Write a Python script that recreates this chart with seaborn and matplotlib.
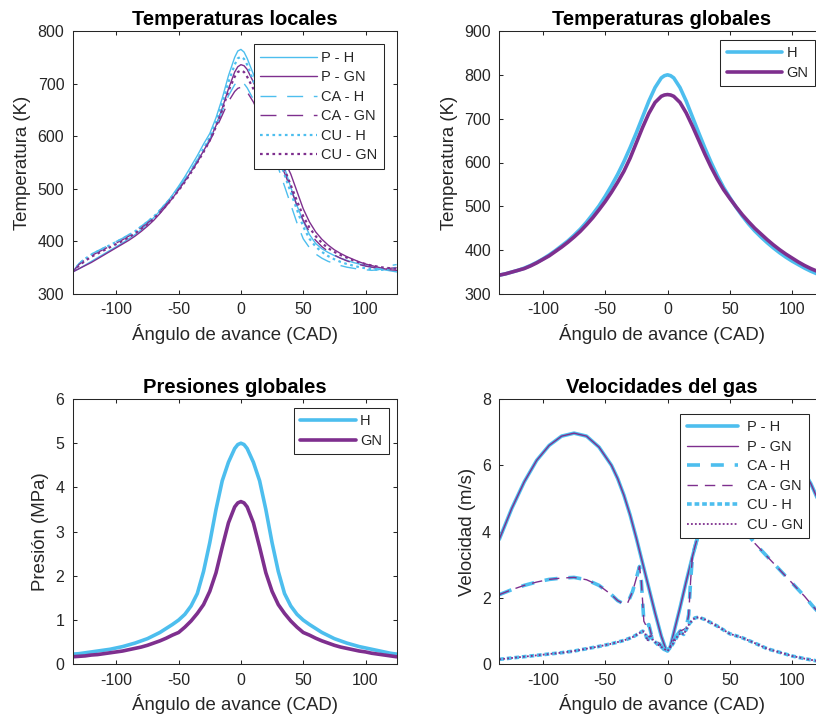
import numpy as np
import pandas as pd
import matplotlib
matplotlib.use("Agg")
import matplotlib.pyplot as plt
import seaborn as sns

# ---------------------------------------------------------------------------
# Data (crank angle in CAD)
# ---------------------------------------------------------------------------
angle = [-135, -130, -125, -120, -115, -110, -105, -100, -95, -90, -85, -80,
         -75, -70, -65, -60, -55, -50, -45, -40, -35, -30, -25, -20, -15, -10,
         -5, -2.5, 0, 2.5, 5, 10, 15, 20, 25, 30, 35, 40, 45, 50, 55, 60, 65,
         70, 75, 80, 85, 90, 95, 100, 105, 110, 115, 120, 125]

# Local temperatures (K): P = pistón, CA = cámara, CU = culata
t_loc_p_h = [342, 348, 355, 362, 369, 376, 383, 390, 397, 405, 413, 422, 433,
             445, 458, 472, 488, 505, 523, 543, 563, 585, 605, 635, 672, 715,
             750, 762, 765, 760, 748, 718, 685, 650, 615, 578, 540, 503, 468,
             438, 413, 396, 386, 379, 373, 368, 364, 360, 357, 354, 351, 348,
             346, 344, 342]
t_loc_p_gn = [342, 348, 354, 360, 367, 374, 381, 388, 395, 402, 410, 419, 429,
              440, 453, 467, 482, 498, 515, 533, 552, 572, 593, 620, 653, 690,
              722, 732, 736, 734, 727, 703, 675, 645, 613, 582, 553, 528, 495,
              462, 437, 418, 404, 393, 384, 377, 371, 366, 361, 357, 354, 351,
              348, 346, 345]
t_loc_ca_h = [342, 358, 368, 376, 382, 388, 394, 400, 406, 413, 420, 429, 438,
              448, 460, 473, 487, 502, 518, 536, 555, 575, 595, 620, 648, 677,
              698, 704, 704, 700, 692, 670, 640, 605, 570, 540, 505, 470, 435,
              405, 388, 376, 368, 362, 358, 354, 351, 349, 347, 346, 345, 346,
              349, 354, 356]
t_loc_ca_gn = [342, 356, 365, 373, 379, 385, 391, 397, 403, 410, 417, 426,
               435, 445, 457, 470, 484, 499, 515, 532, 551, 571, 591, 614, 640,
               666, 685, 691, 693, 690, 684, 665, 640, 612, 583, 556, 530, 500,
               468, 440, 418, 402, 390, 381, 374, 368, 363, 359, 356, 353, 351,
               349, 348, 349, 350]
t_loc_cu_h = [342, 357, 367, 375, 381, 387, 393, 399, 405, 412, 419, 428, 437,
              447, 459, 472, 486, 501, 517, 535, 555, 576, 598, 627, 662, 703,
              736, 748, 751, 747, 736, 705, 670, 632, 595, 560, 527, 493, 460,
              428, 405, 390, 380, 372, 366, 361, 357, 354, 351, 349, 347, 346,
              346, 348, 350]
t_loc_cu_gn = [342, 354, 363, 371, 377, 383, 389, 395, 401, 408, 415, 424,
               433, 443, 455, 468, 482, 497, 513, 531, 550, 570, 592, 618, 650,
               686, 713, 722, 725, 722, 713, 690, 662, 630, 598, 567, 537, 507,
               477, 448, 426, 410, 397, 387, 380, 374, 369, 364, 360, 357, 354,
               352, 350, 349, 348]

# Global temperatures (K)
t_glob_h = [343, 346, 350, 354, 359, 365, 372, 380, 389, 399, 410, 421, 434,
            448, 464, 482, 501, 523, 547, 573, 602, 634, 668, 704, 740, 771,
            793, 798, 800, 798, 793, 771, 740, 704, 668, 633, 600, 570, 543,
            520, 498, 478, 460, 444, 430, 417, 405, 394, 384, 375, 367, 359,
            352, 346, 341]
t_glob_gn = [343, 346, 350, 354, 358, 364, 371, 379, 387, 397, 407, 418, 430,
             443, 458, 474, 492, 511, 532, 555, 580, 610, 645, 680, 712, 737,
             751, 754, 755, 754, 751, 737, 713, 683, 651, 619, 589, 562, 538,
             518, 499, 481, 465, 450, 437, 424, 412, 401, 391, 382, 373, 365,
             358, 352, 347]

# Global pressures (MPa)
p_glob_h = [0.23, 0.24, 0.26, 0.28, 0.30, 0.32, 0.34, 0.37, 0.40, 0.44, 0.48,
            0.53, 0.58, 0.65, 0.72, 0.81, 0.90, 1.00, 1.13, 1.32, 1.60, 2.10,
            2.75, 3.50, 4.15, 4.57, 4.88, 4.97, 5.00, 4.97, 4.88, 4.57, 4.15,
            3.50, 2.75, 2.10, 1.60, 1.32, 1.13, 1.00, 0.90, 0.81, 0.72, 0.65,
            0.58, 0.53, 0.48, 0.44, 0.40, 0.37, 0.34, 0.31, 0.28, 0.25, 0.23]
p_glob_gn = [0.17, 0.18, 0.19, 0.21, 0.22, 0.24, 0.26, 0.28, 0.30, 0.33, 0.36,
             0.39, 0.43, 0.48, 0.53, 0.59, 0.66, 0.72, 0.84, 0.98, 1.15, 1.35,
             1.65, 2.07, 2.65, 3.20, 3.56, 3.65, 3.68, 3.65, 3.56, 3.20, 2.65,
             2.07, 1.65, 1.35, 1.15, 0.98, 0.84, 0.72, 0.66, 0.59, 0.53, 0.48,
             0.43, 0.39, 0.36, 0.33, 0.30, 0.28, 0.25, 0.23, 0.21, 0.19, 0.17]

# Gas velocities (m/s)
ang_v_p = [-135, -125, -115, -105, -95, -85, -75, -65, -55, -45, -40, -35, -30,
           -25, -20, -15, -10, -5, -1, 2, 5, 10, 15, 20, 25, 30, 35, 40, 45,
           55, 65, 75, 85, 95, 105, 115, 125]
v_p = [3.77, 4.70, 5.50, 6.15, 6.60, 6.88, 6.97, 6.88, 6.55, 6.00, 5.60, 5.10,
       4.50, 3.80, 3.05, 2.30, 1.55, 0.85, 0.42, 0.50, 0.95, 1.70, 2.50, 3.25,
       3.95, 4.60, 5.18, 5.65, 6.05, 6.60, 6.90, 6.97, 6.88, 6.60, 6.10, 5.45,
       4.60]

ang_v_ca = [-135, -125, -115, -105, -95, -85, -75, -65, -55, -45, -40, -35,
            -32, -28, -25, -22.5, -21, -20, -19, -17, -15, -13, -10, -6, -3, 0,
            3, 6, 10, 13, 15, 17, 18.5, 20, 22, 25, 30, 35, 40, 45, 55, 60, 65,
            70, 80, 90, 100, 110, 116, 125]
v_ca = [2.10, 2.25, 2.38, 2.48, 2.56, 2.60, 2.62, 2.55, 2.38, 2.10, 1.92, 1.82,
        1.85, 2.20, 2.60, 2.95, 2.50, 1.90, 1.30, 1.15, 1.20, 0.90, 0.75, 0.60,
        0.45, 0.42, 0.60, 0.80, 1.00, 1.05, 1.10, 1.50, 2.50, 3.25, 3.55, 3.95,
        4.15, 4.25, 4.30, 4.30, 4.25, 4.10, 3.90, 3.65, 3.25, 2.85, 2.45, 2.05,
        1.78, 1.40]

ang_v_cu = [-135, -125, -115, -105, -95, -85, -75, -65, -55, -45, -35, -28,
            -23, -20, -18, -16, -14, -12, -8, -4, 0, 4, 8, 11, 13, 15, 18, 22,
            25, 30, 40, 50, 60, 70, 80, 90, 100, 110, 120, 125]
v_cu = [0.15, 0.19, 0.23, 0.27, 0.31, 0.35, 0.40, 0.47, 0.54, 0.62, 0.72, 0.82,
        0.93, 1.00, 0.95, 0.70, 0.90, 0.75, 0.60, 0.50, 0.40, 0.60, 0.85, 0.95,
        0.90, 1.05, 1.25, 1.40, 1.42, 1.35, 1.15, 0.92, 0.80, 0.64, 0.47, 0.36,
        0.25, 0.17, 0.10, 0.08]

x_ticks = [-100, -50, 0, 50, 100]

# ---------------------------------------------------------------------------
# Style
# ---------------------------------------------------------------------------
BLUE = "#4DBEEE"
PURPLE = "#7E2F8E"
DARK = "#262626"

sns.set_theme(style="white")
plt.rcParams.update({
    "font.family": ["Liberation Sans", "DejaVu Sans"],
    "axes.unicode_minus": False,
    "axes.edgecolor": DARK,
    "axes.linewidth": 0.75,
    "xtick.direction": "in",
    "ytick.direction": "in",
    "xtick.top": True,
    "ytick.right": True,
    "xtick.bottom": True,
    "ytick.left": True,
    "xtick.major.size": 3,
    "ytick.major.size": 3,
    "xtick.major.width": 0.75,
    "ytick.major.width": 0.75,
    "xtick.major.pad": 6.0,
    "ytick.major.pad": 6.0,
    "xtick.color": DARK,
    "ytick.color": DARK,
    "xtick.labelsize": 11.5,
    "ytick.labelsize": 11.5,
    "axes.labelsize": 13.4,
    "axes.labelcolor": DARK,
    "axes.labelpad": 4.5,
    "axes.titlesize": 14.5,
    "axes.titleweight": "bold",
    "legend.fontsize": 10.5,
})

fig = plt.figure(figsize=(8.16, 7.24), dpi=100)
W, H = 816.0, 724.0


def make_axes(left_px, top_px, width_px, height_px):
    return fig.add_axes([left_px / W, 1 - (top_px + height_px) / H,
                         width_px / W, height_px / H])


ax_tl = make_axes(72.7, 31, 324.6, 263)
ax_tr = make_axes(499.3, 31, 324.6, 263)
ax_bl = make_axes(72.7, 399, 324.6, 265.3)
ax_br = make_axes(499.3, 399, 324.6, 265.3)

DASH_THIN = (0, (11.5, 7.7))
DOT_THIN = (0, (1.2, 1.6))


def draw(ax, x, y, color, lw, ls, label):
    sns.lineplot(x=x, y=y, ax=ax, color=color, linewidth=lw, linestyle=ls,
                 label=label, estimator=None, sort=False)


def finish(ax, ylim, yticks, ylabel, title, legend_kw):
    ax.set_xlim(-135, 125.5)
    ax.set_ylim(*ylim)
    ax.set_xticks(x_ticks)
    ax.set_yticks(yticks)
    ax.set_xlabel("Ángulo de avance (CAD)")
    ax.set_ylabel(ylabel)
    ax.set_title(title, color="black", pad=4.5)
    for s in ax.spines.values():
        s.set_visible(True)
    leg = ax.legend(loc="upper right", frameon=True, fancybox=False,
                    edgecolor=DARK, framealpha=1, **legend_kw)
    leg.get_frame().set_linewidth(0.75)


# Temperaturas locales
draw(ax_tl, angle, t_loc_p_h, BLUE, 1.0, "-", "P - H")
draw(ax_tl, angle, t_loc_p_gn, PURPLE, 1.0, "-", "P - GN")
draw(ax_tl, angle, t_loc_ca_h, BLUE, 1.0, DASH_THIN, "CA - H")
draw(ax_tl, angle, t_loc_ca_gn, PURPLE, 1.0, DASH_THIN, "CA - GN")
draw(ax_tl, angle, t_loc_cu_h, BLUE, 1.6, DOT_THIN, "CU - H")
draw(ax_tl, angle, t_loc_cu_gn, PURPLE, 1.6, DOT_THIN, "CU - GN")
finish(ax_tl, (300, 800), range(300, 801, 100), "Temperatura (K)",
       "Temperaturas locales",
       dict(handlelength=3.9, handletextpad=0.3, borderpad=0.45,
            labelspacing=0.38, borderaxespad=0.9))

# Temperaturas globales
draw(ax_tr, angle, t_glob_h, BLUE, 2.6, "-", "H")
draw(ax_tr, angle, t_glob_gn, PURPLE, 2.6, "-", "GN")
finish(ax_tr, (300, 900), range(300, 901, 100), "Temperatura (K)",
       "Temperaturas globales",
       dict(handlelength=3.8, handletextpad=0.3, borderpad=0.45,
            labelspacing=0.38, borderaxespad=0.6))

# Presiones globales
draw(ax_bl, angle, p_glob_h, BLUE, 2.6, "-", "H")
draw(ax_bl, angle, p_glob_gn, PURPLE, 2.6, "-", "GN")
finish(ax_bl, (0, 6), range(0, 7, 1), "Presión (MPa)", "Presiones globales",
       dict(handlelength=3.8, handletextpad=0.3, borderpad=0.45,
            labelspacing=0.38, borderaxespad=0.6))

# Velocidades del gas
draw(ax_br, ang_v_p, v_p, BLUE, 2.6, "-", "P - H")
draw(ax_br, ang_v_p, v_p, PURPLE, 1.0, "-", "P - GN")
draw(ax_br, ang_v_ca, v_ca, BLUE, 2.6, (0, (3.6, 3.0)), "CA - H")
draw(ax_br, ang_v_ca, v_ca, PURPLE, 1.0, (0, (7.5, 5)), "CA - GN")
draw(ax_br, ang_v_cu, v_cu, BLUE, 2.6, (0, (1.3, 0.8)), "CU - H")
draw(ax_br, ang_v_cu, v_cu, PURPLE, 1.3, (0, (1.0, 1.2)), "CU - GN")
finish(ax_br, (0, 8), range(0, 9, 2), "Velocidad (m/s)", "Velocidades del gas",
       dict(handlelength=3.5, handletextpad=0.6, borderpad=0.45,
            labelspacing=0.38, borderaxespad=1.0))

fig.savefig("out.png", dpi=100)
